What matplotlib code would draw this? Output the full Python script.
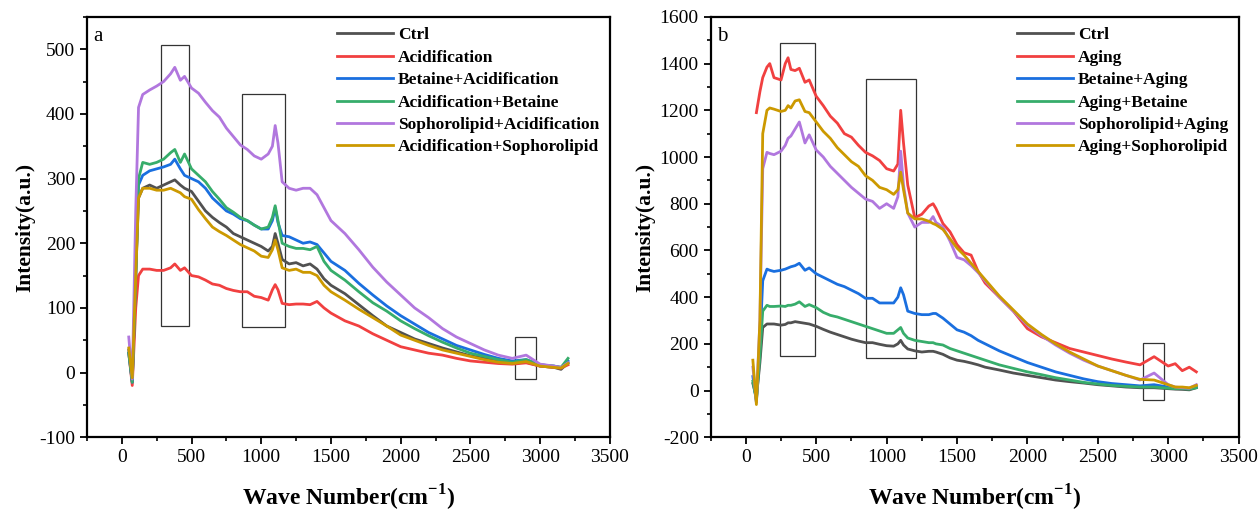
import numpy as np
import matplotlib
matplotlib.use("Agg")
import matplotlib.pyplot as plt
from matplotlib.patches import Rectangle

plt.rcParams['font.family'] = ['Liberation Serif', 'DejaVu Serif']
plt.rcParams['mathtext.fontset'] = 'custom'
plt.rcParams['mathtext.rm'] = 'Liberation Serif'
plt.rcParams['mathtext.bf'] = 'Liberation Serif:bold'
plt.rcParams['axes.unicode_minus'] = False

colors = ['#515151', '#F14040', '#1A6FDF', '#37AD6B', '#B177DE', '#CC9900']

### panel a data
xa = [50, 75, 100, 120, 150, 200, 250, 300, 350, 380, 420, 450, 500, 550, 600, 650, 700, 750,
      800, 850, 900, 950, 1000, 1050, 1080, 1100, 1120, 1150, 1200, 1250, 1300, 1350, 1400, 1450,
      1500, 1600, 1700, 1800, 1900, 2000, 2100, 2200, 2300, 2400, 2500, 2600, 2700, 2800, 2900,
      3000, 3100, 3150, 3200]
labels_a = ['Ctrl', 'Acidification', 'Betaine+Acidification', 'Acidification+Betaine',
            'Sophorolipid+Acidification', 'Acidification+Sophorolipid']
ctrl_a = [35, -15, 150, 270, 285, 290, 285, 290, 295, 298, 290, 285, 280, 265, 250, 240, 232, 225,
          215, 210, 205, 200, 195, 188, 195, 215, 200, 175, 168, 170, 165, 168, 160, 145,
          135, 122, 105, 88, 72, 62, 52, 45, 38, 32, 26, 22, 18, 15, 16,
          10, 8, 5, 15]
acid_a = [30, -20, 100, 150, 160, 160, 158, 158, 162, 168, 158, 162, 150, 148, 143, 137, 135, 130,
          127, 125, 125, 118, 116, 112, 128, 136, 128, 107, 105, 106, 106, 105, 110, 100,
          92, 80, 72, 60, 50, 40, 35, 30, 27, 22, 18, 16, 14, 13, 15,
          10, 8, 7, 12]
bet_acid_a = [30, -15, 150, 290, 305, 312, 315, 318, 322, 330, 315, 305, 300, 295, 285, 270, 260, 250,
              245, 238, 235, 228, 222, 222, 235, 255, 232, 212, 210, 205, 200, 202, 198, 185,
              172, 158, 138, 120, 103, 88, 75, 62, 52, 42, 35, 28, 22, 18, 20,
              12, 10, 8, 18]
acid_bet_a = [30, -15, 150, 300, 325, 322, 325, 330, 340, 345, 325, 338, 315, 305, 295, 280, 268, 255,
              248, 240, 235, 228, 222, 225, 240, 258, 235, 200, 195, 192, 192, 190, 195, 172,
              158, 143, 125, 108, 95, 80, 68, 57, 47, 38, 30, 25, 20, 16, 20,
              12, 10, 8, 22]
soph_acid_a = [55, -10, 250, 410, 430, 437, 443, 450, 462, 472, 452, 458, 440, 432, 418, 405, 395, 378,
               365, 352, 345, 335, 330, 338, 350, 382, 355, 295, 285, 282, 285, 285, 275, 255,
               235, 215, 190, 163, 140, 120, 100, 85, 68, 55, 45, 35, 27, 22, 27,
               13, 10, 8, 15]
acid_soph_a = [38, -8, 150, 270, 285, 285, 282, 282, 285, 282, 278, 272, 268, 252, 238, 225, 218, 212,
               205, 198, 193, 188, 180, 178, 190, 205, 190, 162, 158, 160, 155, 155, 150, 135,
               125, 112, 98, 85, 72, 58, 50, 42, 35, 30, 25, 20, 16, 14, 17,
               10, 8, 7, 14]

### panel b data
xb = [50, 75, 100, 120, 150, 170, 200, 250, 280, 300, 320, 350, 380, 420, 450, 500, 550, 600, 650,
      700, 750, 800, 850, 900, 950, 1000, 1050, 1080, 1100, 1120, 1150, 1200, 1250, 1300, 1330,
      1350, 1400, 1450, 1500, 1550, 1600, 1650, 1700, 1800, 1900, 2000, 2100, 2200, 2300, 2400,
      2500, 2600, 2700, 2800, 2900, 3000, 3050, 3100, 3150, 3200]
labels_b = ['Ctrl', 'Aging', 'Betaine+Aging', 'Aging+Betaine', 'Sophorolipid+Aging',
            'Aging+Sophorolipid']
ctrl_b = [30, -30, 120, 270, 285, 285, 285, 280, 283, 290, 290, 295, 292, 288, 285, 275, 262, 250, 240,
          230, 220, 212, 205, 205, 198, 192, 190, 200, 215, 195, 178, 170, 165, 168, 168,
          165, 155, 140, 130, 125, 118, 110, 100, 88, 75, 65, 55, 45, 38, 32,
          25, 20, 15, 12, 12, 8, 6, 5, 3, 12]
aging_b = [np.nan, 1190, 1280, 1340, 1385, 1400, 1340, 1330, 1400, 1425, 1375, 1370, 1380, 1320, 1330,
           1260, 1220, 1175, 1145, 1100, 1085, 1050, 1020, 1005, 985, 950, 940, 970, 1200, 1060,
           880, 740, 755, 790, 800, 780, 715, 680, 625, 590, 580, 510, 460, 400, 340,
           265, 230, 205, 180, 165, 150, 135, 122, 110, 145, 105, 115, 85, 100, 80]
bet_aging_b = [60, -50, 200, 470, 520, 515, 510, 515, 520, 525, 530, 535, 545, 515, 525, 500, 485, 470,
               455, 445, 430, 415, 395, 395, 375, 375, 375, 400, 440, 410, 340, 330, 325, 325,
               330, 330, 310, 285, 260, 250, 235, 215, 200, 170, 145, 120, 100, 80, 65,
               50, 38, 30, 25, 20, 25, 15, 10, 10, 8, 15]
aging_bet_b = [40, -40, 150, 340, 365, 360, 360, 362, 360, 365, 365, 370, 380, 360, 368, 355, 335, 322,
               315, 305, 295, 285, 275, 265, 255, 245, 245, 260, 270, 245, 225, 215, 210, 205,
               205, 200, 195, 180, 170, 160, 150, 140, 130, 110, 95, 80, 68, 55, 45,
               35, 28, 22, 18, 15, 15, 10, 8, 8, 6, 12]
soph_aging_b = [100, -50, 300, 950, 1020, 1015, 1010, 1025, 1050, 1080, 1090, 1120, 1150, 1060, 1095,
                1030, 1000, 960, 930, 900, 870, 845, 820, 810, 780, 800, 780, 830, 1025, 880,
                760, 700, 720, 720, 745, 720, 700, 640, 570, 560, 535, 505, 470, 400, 340,
                280, 235, 195, 160, 130, 105, 85, 65, 45, 75, 25, 15, 12, 10, 25]
aging_soph_b = [130, -60, 300, 1100, 1200, 1210, 1205, 1195, 1200, 1220, 1210, 1240, 1245, 1195, 1190,
                1150, 1110, 1080, 1040, 1010, 980, 960, 920, 900, 870, 860, 840, 860, 935, 860,
                760, 735, 735, 725, 715, 710, 690, 650, 610, 580, 545, 510, 475, 405, 345,
                285, 240, 200, 165, 135, 105, 85, 65, 48, 45, 25, 15, 15, 12, 22]

# marked regions (x0, x1, y0, y1)
boxes_a = [(280, 480, 72, 507), (860, 1170, 70, 430), (2820, 2970, -10, 55)]
boxes_b = [(240, 490, 150, 1490), (850, 1210, 140, 1335), (2820, 2970, -40, 205)]


def panel(ax, x, series, labels, boxes, ylim, ystep, letter):
    "draws one spectra panel"
    for y, lab, c in zip(series, labels, colors):
        ax.plot(x, y, color=c, lw=2.0, label=lab)
    for x0, x1, y0, y1 in boxes:
        ax.add_patch(Rectangle((x0, y0), x1 - x0, y1 - y0, fill=False, ec='#333333', lw=0.9))
    ax.set_xticks(np.arange(0, 3501, 500))
    ax.set_xticks(np.arange(-250, 3501, 250), minor=True)
    ax.set_yticks(np.arange(ylim[0], ylim[1] + 1, ystep))
    ax.set_yticks(np.arange(ylim[0], ylim[1] + 1, ystep / 2), minor=True)
    ax.set_xlim(-250, 3500)
    ax.set_ylim(*ylim)
    ax.tick_params(direction='out', labelsize=14, width=1.3, length=5)
    ax.tick_params(which='minor', direction='out', width=1.2, length=3)
    for s in ax.spines.values():
        s.set_linewidth(1.6)
    ax.set_xlabel(r'Wave Number(cm$^{\mathbf{-1}}$)', fontsize=17, fontweight='bold', labelpad=12)
    ax.set_ylabel('Intensity(a.u.)', fontsize=15.5, fontweight='bold', labelpad=3)
    ax.text(0.012, 0.975, letter, transform=ax.transAxes, fontsize=15, va='top')
    ax.legend(loc='upper right', frameon=False, prop={'weight': 'bold', 'size': 12.5},
              handlelength=3.2, labelspacing=0.36, handletextpad=0.3,
              borderaxespad=0.2, bbox_to_anchor=(1.0, 1.0))


fig = plt.figure(figsize=(12.6, 5.12), dpi=100)
ax1 = fig.add_axes([0.069, 0.146, 0.415, 0.821])
ax2 = fig.add_axes([0.564, 0.146, 0.419, 0.821])

panel(ax1, xa, [ctrl_a, acid_a, bet_acid_a, acid_bet_a, soph_acid_a, acid_soph_a],
      labels_a, boxes_a, (-100, 550), 100, 'a')
panel(ax2, xb, [ctrl_b, aging_b, bet_aging_b, aging_bet_b, soph_aging_b, aging_soph_b],
      labels_b, boxes_b, (-200, 1600), 200, 'b')

fig.savefig('out.png', dpi=100)
